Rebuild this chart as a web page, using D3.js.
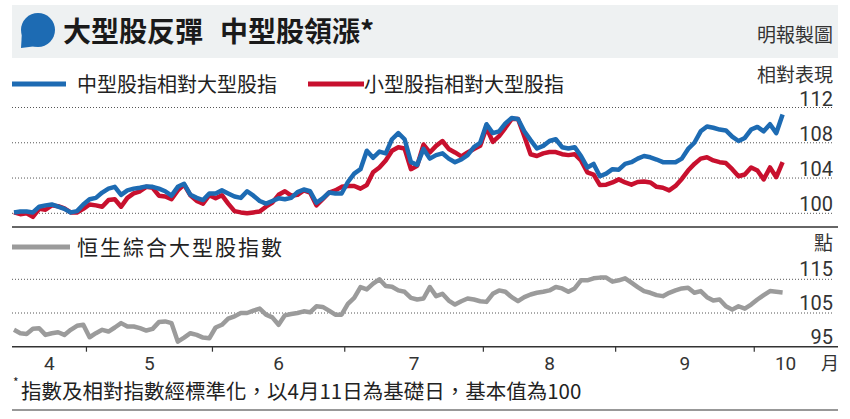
<!DOCTYPE html>
<html>
<head>
<meta charset="utf-8">
<script src="https://cdn.jsdelivr.net/npm/d3@7"></script>
<style>
  body { margin: 0; background: #fff; }
  svg text { font-family: "Noto Sans CJK TC", "Noto Sans", sans-serif; }
  .num { font-family: Roboto, "Liberation Sans", sans-serif; }
</style>
</head>
<body>
<div id="chart"></div>
<script>
// trading days per month, starting 11 Apr
const months = ["4", "5", "6", "7", "8", "9", "10"]
const daysPerMonth = [12, 20, 21, 22, 21, 22, 5]

// 中型股指相對大型股指
const midRel = [
  100.1, 100.2, 100.2, 100.1, 100.75, 100.9, 101.0, 100.75, 100.5, 100.1,
  100.25, 101.0, 101.6, 101.75, 102.35, 102.8, 103.0, 102.1, 102.6, 102.8,
  102.9, 103.05, 103.0, 102.8, 102.5, 102.0, 103.0, 103.35, 102.1, 101.75,
  101.5, 102.25, 102.25, 102.6, 102.25, 101.9, 101.75, 102.5, 102.0, 101.4,
  101.1, 101.4, 101.7, 101.6, 101.75, 102.4, 102.7, 102.5, 101.2, 101.7,
  102.35, 102.25, 102.25, 103.55, 104.5, 105.0, 107.1, 106.3, 107.0, 106.8,
  108.4, 109.1, 108.4, 105.8, 105.5, 107.3, 106.2, 106.6, 106.8, 106.2,
  105.8, 106.1, 106.6, 107.5, 108.0, 110.1, 109.1, 109.3, 110.2, 110.8,
  110.7, 109.3, 108.3, 107.35, 107.65, 108.2, 108.4, 107.5, 107.35, 107.5,
  106.5, 105.2, 105.6, 104.2, 104.5, 105.0, 104.95, 105.6, 105.8, 106.2,
  106.5, 106.35, 106.1, 105.8, 105.8, 105.8, 106.2, 107.3, 108.0, 109.3,
  109.85, 109.7, 109.5, 109.4, 108.7, 108.2, 108.55, 109.5, 109.8, 109.3,
  110.1, 109.1, 111.2
]

// 小型股指相對大型股指
const smallRel = [
  100.1, 99.9, 100.0, 99.6, 100.5, 100.4, 100.9, 100.8, 100.55, 100.1,
  100.1, 100.5, 101.0, 100.9, 100.75, 101.5, 101.6, 100.75, 101.75, 102.25,
  102.5, 103.0, 102.9, 102.0, 101.9, 101.6, 102.6, 103.25, 102.05, 101.4,
  101.1, 102.05, 101.7, 102.05, 101.1, 100.25, 100.1, 100.0, 100.1, 100.2,
  100.75, 101.2, 102.1, 102.5, 102.0, 102.1, 102.6, 102.35, 100.9, 101.6,
  102.35, 102.6, 103.0, 103.1, 103.1, 102.8, 103.2, 104.65, 105.2, 106.0,
  107.1, 107.5, 107.35, 105.0, 105.4, 107.8, 106.9, 107.65, 108.2, 107.3,
  106.9, 106.45, 106.9, 107.3, 107.65, 109.7, 108.1, 108.75, 109.7, 110.7,
  110.7, 108.75, 106.7, 106.5, 106.8, 106.95, 106.95, 106.7, 106.6, 106.7,
  106.0, 104.65, 104.4, 103.2, 103.25, 103.5, 103.85, 103.5, 103.25, 103.55,
  103.6, 103.5, 103.0, 102.9, 102.6, 103.1, 103.9, 104.85, 105.6, 106.2,
  106.35, 106.0, 105.8, 105.7, 105.0, 104.2, 104.4, 105.2, 104.85, 103.85,
  105.2, 104.1, 105.8
]

// 恒生綜合大型股指數
const largeIdx = [
  100.0, 99.0, 98.8, 100.3, 100.5, 98.5, 99.0, 99.3, 98.5, 100.0,
  101.2, 101.5, 97.8, 99.0, 100.0, 99.5, 100.7, 102.0, 101.0, 101.0,
  100.5, 99.8, 100.3, 102.3, 102.5, 102.0, 96.5, 97.7, 99.0, 98.5,
  97.7, 97.5, 100.7, 101.5, 103.3, 104.0, 105.0, 105.0, 105.7, 106.3,
  104.5, 103.7, 101.5, 104.3, 104.7, 105.0, 105.5, 105.2, 107.0, 106.8,
  105.7, 104.5, 104.5, 107.7, 109.5, 112.7, 112.0, 113.7, 115.0, 113.0,
  112.8, 111.7, 111.3, 109.5, 109.0, 109.3, 112.7, 110.0, 110.7, 108.7,
  107.5, 108.5, 109.3, 109.0, 108.5, 108.3, 110.7, 111.7, 111.3, 109.7,
  108.5, 109.7, 110.5, 111.0, 111.3, 111.7, 112.7, 112.3, 111.3, 112.3,
  114.7, 114.7, 115.3, 115.5, 115.5, 114.3, 114.7, 115.3, 114.0, 112.7,
  111.5, 111.0, 110.3, 110.0, 111.0, 111.7, 112.3, 112.5, 111.0, 111.5,
  109.7, 108.7, 109.0, 107.0, 106.0, 107.0, 106.3, 107.5, 109.0, 110.3,
  111.5, 111.3, 111.1
]

const topTicks = [100, 104, 108, 112]
const bottomTicks = [95, 105, 115]

const width = 850
const height = 419
const left = 12
const right = 838

const svg = d3.select("#chart")
  .append("svg")
    .attr("width", width)
    .attr("height", height)

// title bar
svg.append("rect")
  .attr("x", left).attr("y", 5)
  .attr("width", right - left).attr("height", 53)
  .attr("fill", "#eef1f2")

svg.append("circle")
  .attr("cx", 38).attr("cy", 30).attr("r", 17)
  .attr("fill", "#1d6bb3")
svg.append("path")
  .attr("d", "M21,48 L22,31 L37,46 Z")
  .attr("fill", "#1d6bb3")

const titleParts = [
  {x: 63, label: "大型股反彈"},
  {x: 220, label: "中型股領漲*"},
]
titleParts.forEach(p => {
  svg.append("text")
    .attr("x", p.x).attr("y", 42)
    .attr("font-size", 28)
    .attr("font-weight", 700)
    .attr("fill", "#1a1a1a")
    .text(p.label)
})

svg.append("text")
  .attr("x", 833).attr("y", 42)
  .attr("text-anchor", "end")
  .attr("font-size", 19)
  .attr("fill", "#333")
  .text("明報製圖")

// scales
const nDays = midRel.length
const x = d3.scaleLinear()
  .domain([0, nDays - 1])
  .range([14, 14 + 6.3 * (nDays - 1)])

const yTop = d3.scaleLinear()
  .domain([100, 112])
  .range([213.3, 107.5])

const yBottom = d3.scaleLinear()
  .domain([95, 115])
  .range([346.7, 279.3])

// legends
const legends = [
  {x1: 12, x2: 66, y: 84, color: "#1d6bb3", tx: 77, ty: 92, size: 20, ls: 0, label: "中型股指相對大型股指"},
  {x1: 308, x2: 364, y: 84, color: "#c8102e", tx: 364, ty: 92, size: 20, ls: 0, label: "小型股指相對大型股指"},
  {x1: 12, x2: 70, y: 247, color: "#9b9b9b", tx: 77, ty: 255, size: 21, ls: 2, label: "恒生綜合大型股指數"},
]
legends.forEach(l => {
  svg.append("line")
    .attr("x1", l.x1).attr("x2", l.x2)
    .attr("y1", l.y).attr("y2", l.y)
    .attr("stroke", l.color)
    .attr("stroke-width", 5)
  svg.append("text")
    .attr("x", l.tx).attr("y", l.ty)
    .attr("font-size", l.size)
    .attr("letter-spacing", l.ls)
    .attr("fill", "#222")
    .text(l.label)
})

svg.append("text")
  .attr("x", 833).attr("y", 82)
  .attr("text-anchor", "end")
  .attr("font-size", 19)
  .attr("fill", "#333")
  .text("相對表現")

svg.append("text")
  .attr("x", 833).attr("y", 250)
  .attr("text-anchor", "end")
  .attr("font-size", 19)
  .attr("fill", "#333")
  .text("點")

// gridlines
const gridTop = svg.append("g")
topTicks.forEach(t => {
  gridTop.append("line")
    .attr("x1", left).attr("x2", 833)
    .attr("y1", yTop(t)).attr("y2", yTop(t))
    .attr("stroke", "#555")
    .attr("stroke-width", 1)
    .attr("stroke-dasharray", "1,2")
  gridTop.append("text")
    .attr("class", "num")
    .attr("x", 833).attr("y", yTop(t) - 2)
    .attr("text-anchor", "end")
    .attr("font-size", 20)
    .attr("fill", "#333")
    .text(t)
})

const gridBottom = svg.append("g")
bottomTicks.forEach(t => {
  if (t != 95) {
    gridBottom.append("line")
      .attr("x1", left).attr("x2", 833)
      .attr("y1", yBottom(t)).attr("y2", yBottom(t))
      .attr("stroke", "#555")
      .attr("stroke-width", 1)
      .attr("stroke-dasharray", "1,2")
  }
  gridBottom.append("text")
    .attr("class", "num")
    .attr("x", 833).attr("y", yBottom(t) - 3)
    .attr("text-anchor", "end")
    .attr("font-size", 20)
    .attr("fill", "#333")
    .text(t)
})

// panel separator and x axis line
svg.append("line")
  .attr("x1", left).attr("x2", right)
  .attr("y1", 227).attr("y2", 227)
  .attr("stroke", "#333").attr("stroke-width", 1.5)

svg.append("line")
  .attr("x1", left).attr("x2", right)
  .attr("y1", yBottom(95)).attr("y2", yBottom(95))
  .attr("stroke", "#333").attr("stroke-width", 1.5)

// month ticks and labels
let cum = 0
const bounds = [left]
daysPerMonth.forEach((n, i) => {
  cum += n
  if (i < daysPerMonth.length - 1) bounds.push(x(cum - 0.5))
})
bounds.push(817)

bounds.slice(1, -1).forEach(b => {
  svg.append("line")
    .attr("x1", b).attr("x2", b)
    .attr("y1", yBottom(95)).attr("y2", yBottom(95) + 5)
    .attr("stroke", "#333").attr("stroke-width", 1.2)
})

months.forEach((m, i) => {
  svg.append("text")
    .attr("class", "num")
    .attr("x", (bounds[i] + bounds[i + 1]) / 2)
    .attr("y", 370)
    .attr("text-anchor", "middle")
    .attr("font-size", 19)
    .attr("fill", "#333")
    .text(m)
})
svg.append("text")
  .attr("x", 839).attr("y", 370)
  .attr("text-anchor", "end")
  .attr("font-size", 18)
  .attr("fill", "#333")
  .text("月")

// lines
const lineTop = d3.line()
  .x((d, i) => x(i))
  .y(d => yTop(d))

const lineBottom = d3.line()
  .x((d, i) => x(i))
  .y(d => yBottom(d))

svg.append("path")
  .datum(smallRel)
  .attr("d", lineTop)
  .attr("fill", "none")
  .attr("stroke", "#c8102e")
  .attr("stroke-width", 4.5)
  .attr("stroke-linejoin", "round")

svg.append("path")
  .datum(midRel)
  .attr("d", lineTop)
  .attr("fill", "none")
  .attr("stroke", "#1d6bb3")
  .attr("stroke-width", 4.5)
  .attr("stroke-linejoin", "round")

svg.append("path")
  .datum(largeIdx)
  .attr("d", lineBottom)
  .attr("fill", "none")
  .attr("stroke", "#9b9b9b")
  .attr("stroke-width", 4.5)
  .attr("stroke-linejoin", "round")

// footnote
svg.append("text")
  .attr("x", 13).attr("y", 387)
  .attr("font-size", 12)
  .attr("fill", "#222")
  .text("*")
svg.append("text")
  .attr("x", 21).attr("y", 399)
  .attr("font-size", 20.5)
  .attr("fill", "#222")
  .text("指數及相對指數經標準化，以4月11日為基礎日，基本值為100")

svg.append("line")
  .attr("x1", left).attr("x2", right)
  .attr("y1", 410).attr("y2", 410)
  .attr("stroke", "#333").attr("stroke-width", 1.2)
</script>
</body>
</html>
